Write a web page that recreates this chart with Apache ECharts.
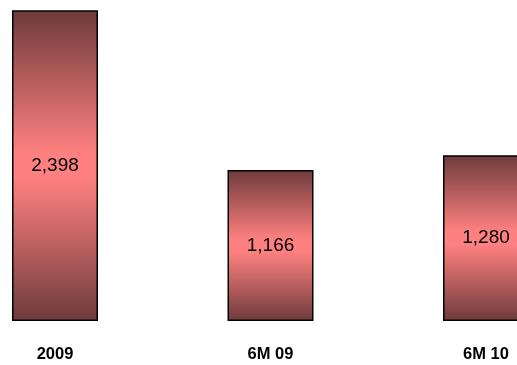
<!DOCTYPE html>
<html>
<head>
<meta charset="utf-8">
<script src="https://cdn.jsdelivr.net/npm/echarts@6/dist/echarts.min.js"></script>
<style>html,body{margin:0;padding:0;background:#fff;}#c{width:517px;height:365px;}</style>
</head>
<body>
<div id="c"></div>
<script>
var categories = ['2009', '6M 09', '6M 10'];
var values = [2398, 1166, 1280];

var chart = echarts.init(document.getElementById('c'), null, {renderer: 'canvas'});
var grad = new echarts.graphic.LinearGradient(0, 0, 0, 1, [
  {offset: 0, color: '#6e3b3b'},
  {offset: 0.46, color: '#ff8080'},
  {offset: 0.54, color: '#ff8080'},
  {offset: 1, color: '#6e3b3b'}
]);
chart.setOption({
  animation: false,
  backgroundColor: '#fff',
  grid: {left: -52.75, right: -76.75, top: 10, bottom: 44, containLabel: false, outerBoundsMode: 'none'},
  xAxis: {
    type: 'category',
    data: categories,
    axisLine: {show: false},
    axisTick: {show: false},
    axisLabel: {
      margin: 25,
      color: '#000',
      fontWeight: 'bold',
      fontSize: 16.5,
      fontFamily: 'Liberation Sans, Arial, sans-serif'
    }
  },
  yAxis: {
    type: 'value',
    min: 0,
    max: 2400,
    show: false,
    splitLine: {show: false}
  },
  series: [{
    type: 'bar',
    data: values,
    barWidth: 86,
    itemStyle: {color: grad, borderColor: '#000', borderWidth: 1.5},
    label: {
      show: true,
      position: 'inside',
      color: '#000',
      fontSize: 19,
      fontFamily: 'Liberation Sans, Arial, sans-serif',
      formatter: function (p) { return p.value.toLocaleString('en-US'); }
    }
  }]
});
</script>
</body>
</html>
